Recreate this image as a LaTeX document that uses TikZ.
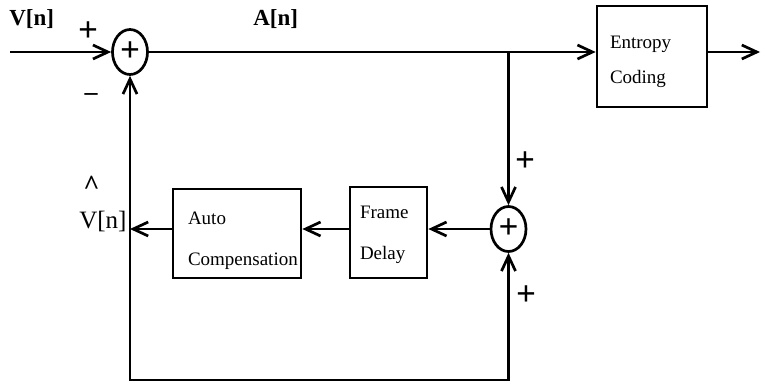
\documentclass[tikz,border=0pt]{standalone}
\usepackage{fontspec}
\setmainfont{Liberation Serif}
\usetikzlibrary{shapes.geometric,arrows.meta}

\begin{document}
\begin{tikzpicture}[x=1pt,y=-1pt,line width=2.7pt,
    >={Straight Barb[length=15pt,width=14pt]},
    sumnode/.style={draw,ellipse,inner sep=0pt,minimum width=35pt,minimum height=45pt,font=\fontsize{35}{35}\selectfont\bfseries},
    blockbox/.style={draw,rectangle,align=left,text height=14pt,font=\fontsize{19}{41}\selectfont},
    signlabel/.style={inner sep=0pt,font=\fontsize{35}{35}\selectfont\bfseries},
    toplabel/.style={anchor=base west,inner sep=0pt,font=\fontsize{23}{23}\selectfont\bfseries}]
    \useasboundingbox (0,0) rectangle (762,384);
    \node[sumnode] (sumA) at (130,52) {+};
	\node[sumnode] (sumB) at (508.5,229) {+};
    \node[blockbox,font=\fontsize{19}{35}\selectfont,minimum width=110pt,minimum height=101pt,inner xsep=13pt,text width=84pt,text depth=31pt] (entropy) at (652,56.5) {Entropy\\Coding};
	\node[blockbox,minimum width=77pt,minimum height=91pt,inner xsep=10pt,text width=57pt,text depth=43pt] (delay) at (388.5,232.5) {Frame\\Delay};
	\node[blockbox,minimum width=128pt,minimum height=89pt,inner xsep=15pt,text width=98pt,text depth=33pt] (autocomp) at (237,233.5) {Auto\\Compensation};
    \coordinate (vin) at (10,52);
    \coordinate (split) at (508.5,52);
    \coordinate (vout) at (760,52);
	\coordinate (loopL) at (130,380);
	\coordinate (loopR) at (508.5,380);
    \draw[->] (vin) -- (sumA.west);
    \draw[->] (sumA.east) -- (entropy.west |- sumA);
    \draw[->] (entropy.east |- sumA) -- (vout);
    \draw[->] (split) -- (sumB.north);
    \draw[->] (sumB.west) -- (delay.east |- sumB);
    \draw[->] (delay.west |- sumB) -- (autocomp.east |- sumB);
    \draw[->] (autocomp.west |- sumB) -- (sumA |- sumB);
    \draw[<->] (sumA.south) -- (loopL) -- (loopR) -- (sumB.south);
    \node[toplabel] (vlabel) at (8,25) {V[n]};
    \node[toplabel] (alabel) at (252,25) {A[n]};
    \node[signlabel] (plusA) at (88,32) {+};
    \node[signlabel,font=\fontsize{26}{26}\selectfont\bfseries] (minusA) at (91,97) {\textendash};
    \node[signlabel] (plusB) at (525,162) {+};
    \node[signlabel] (plusC) at (526,296) {+};
    \node[anchor=base west,inner sep=0pt,font=\fontsize{25}{25}\selectfont] (vhat) at (78,228) {\rlap{\raisebox{34pt}{\kern4pt\bfseries\fontsize{28}{28}\selectfont\textasciicircum}}V[n]};
\end{tikzpicture}
\end{document}
